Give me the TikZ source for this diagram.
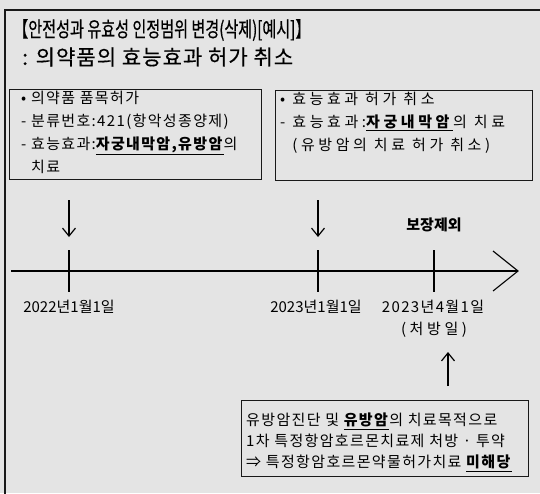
\documentclass[tikz,border=0pt]{standalone}
\usepackage{fontspec}
\setmainfont{Noto Sans CJK KR}
\newfontfamily\krspaced{Noto Sans CJK KR}[LetterSpace=24]
\newfontfamily\krloose{Noto Sans CJK KR}[LetterSpace=9]
\newfontfamily\krtitle{Noto Sans CJK KR}[FakeStretch=0.72, FakeBold=0.5]
\newfontfamily\krsubtitle{Noto Sans CJK KR}[FakeBold=0.5, LetterSpace=5]
\usetikzlibrary{arrows.meta,positioning}
\definecolor{pagegray}{RGB}{228,228,228}
\definecolor{framegray}{RGB}{25,25,25}

\begin{document}
\begin{tikzpicture}[x=1pt,y=-1pt,
    framebox/.style={draw=framegray, line width=1.1pt, anchor=north west, inner sep=0pt},
    boxtext/.style={anchor=north west, align=left, inner sep=0pt,
                    font=\fontsize{15}{23}\krloose},
    datelabel/.style={font=\fontsize{15}{18}\selectfont},
    pointer/.style={line width=1.2pt, -{Straight Barb[length=8pt,width=13pt]}}]
  \useasboundingbox[fill=pagegray] (0,0) rectangle (540,493);
  \draw[line width=1.6pt, framegray] (5,560) -- (5,10) -- (560,10);

  % title
  \node[anchor=west, inner sep=0pt, font=\fontsize{21}{27}\krtitle] (title) at (13,30)
    {【안전성과 유효성 인정범위 변경(삭제)[예시]】};
  \node[anchor=west, inner sep=0pt, font=\fontsize{21}{27}\krsubtitle] (subtitle) at (22,57)
    {: 의약품의 효능효과 허가 취소};

  % boxes
  \node[framebox, minimum width=252pt, minimum height=90pt] (permitbox) at (9,89) {};
  \node[boxtext] (permittext) at (21,91)
    {• 의약품 품목허가\\- 분류번호:421(항악성종양제)\\
     - 효능효과:\underline{\textbf{자궁내막암,유방암}}의\\\phantom{- }치료};
  \node[framebox, minimum width=257pt, minimum height=90pt] (cancelbox) at (275,90) {};
  \node[boxtext, font=\fontsize{15}{23}\krspaced] (canceltext) at (280,92)
    {• 효능효과 허가 취소\\- 효능효과:\underline{\textbf{자궁내막암}}의 치료\\
     \phantom{- }(유방암의 치료 허가 취소)};

  % timeline
  \coordinate (tstart) at (11,271);
  \coordinate (tend) at (518,271);
  \draw[line width=1.1pt] (tstart) -- (tend);
  \draw[line width=1.1pt] (493,251) -- (tend) -- (493,291);
  \foreach \tx/\tn/\tw in {69/a/2.2pt, 318/b/1.1pt, 434/c/1.1pt}{
    \coordinate (tick\tn) at (\tx,250);
    \draw[line width=\tw] (tick\tn) -- ++(0,42);
  }

  % arrows
  \coordinate (downa) at (69,200);
  \coordinate (downb) at (318,200);
  \draw[pointer] (downa) -- ([yshift=13pt]ticka);
  \draw[pointer] (downb) -- ([yshift=13pt]tickb);

  \node[font=\fontsize{15}{18}\selectfont\bfseries] (excluded) at (434,225) {보장제외};

  % dates
  \node[datelabel] (datea) at (69,307) {2022년1월1일};
  \node[datelabel] (dateb) at (316,307) {2023년1월1일};
  \node[datelabel, font=\fontsize{15}{18}\krloose] (datec) at (433,307) {2023년4월1일};
  \node[datelabel, font=\fontsize{15}{18}\krspaced] (rxday) at (434,330) {(처방일)};

  % note
  \node[framebox, minimum width=287pt, minimum height=76pt] (notebox) at (241,400) {};
  \coordinate (notetop) at (448,386);
  \draw[pointer] (notetop) -- (448,352);
  \node[boxtext, font=\fontsize{15}{21}\krloose] (notetext) at (246,413)
    {유방암진단 및 \underline{\textbf{유방암}}의 치료목적으로\\
     1차 특정항암호르몬치료제 처방 · 투약\\
     ⇒ 특정항암호르몬약물허가치료 \underline{\textbf{미해당}}};
\end{tikzpicture}
\end{document}
